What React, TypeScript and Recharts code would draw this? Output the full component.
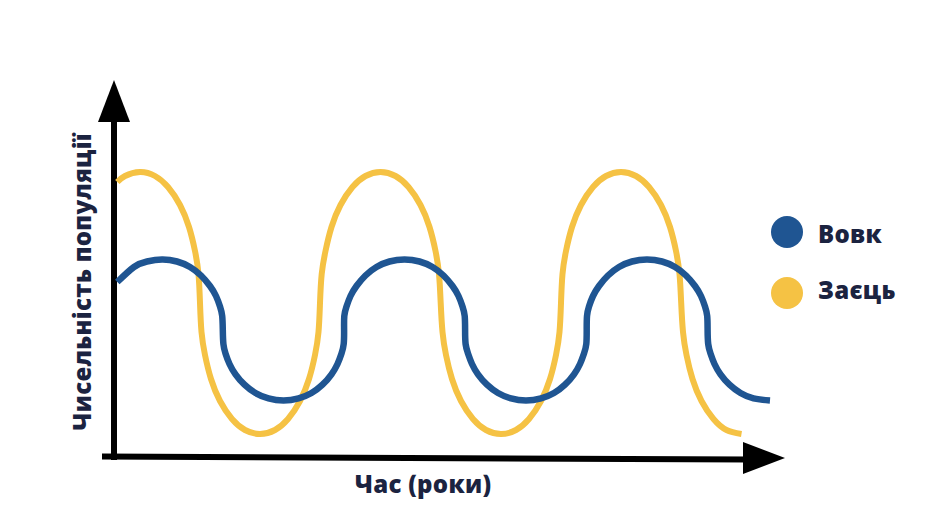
import { LineChart, Line, XAxis, YAxis, Customized } from "recharts";

const seriesNames = ["Вовк", "Заєць"];
const seriesColors = ["#1f5592", "#f5c244"];
const xTitle = "Час (роки)";
const yTitle = "Чисельність популяції";

// wolf (blue) curve
const wolfTime = [
  1.3, 18, 31, 46, 61, 74, 85, 94, 100, 104,
  106.2, 106.8, 107.4, 109.5, 113.5, 119.5, 128.5, 139.5, 152.5, 167.5,
  182.5, 195.5, 206.5, 215.5, 221.5, 225.5, 227.7, 228.1, 228.3, 230.5,
  234.5, 240.5, 249.5, 260.5, 273.5, 288.5, 303.5, 316.5, 327.5, 336.5,
  342.5, 346.5, 348.7, 349.1, 349.6, 352, 356, 362, 371, 382,
  395, 410, 425, 438, 449, 458, 464, 468, 470.3, 470.7,
  471, 473, 477, 483, 492, 503, 516, 531, 546, 559,
  570, 579, 585, 589, 591.2, 591.6, 592.2, 594.5, 598.5, 604.5,
  613.5, 624.5, 637.5, 654,
];
const wolfCount = [
  176, 191, 196.5, 198.5, 196.5, 191, 182.5, 172, 162, 151.5,
  142, 128, 114, 104.5, 94, 83.7, 73.3, 65, 59.6, 57.5,
  59.6, 65, 73.3, 83.7, 94, 104.5, 114, 128, 142, 151.5,
  162, 172, 182.5, 191, 196.5, 198.5, 196.5, 191, 182.5, 172,
  162, 151.5, 142, 128, 114, 104.5, 94, 83.7, 73.3, 65,
  59.6, 57.5, 59.6, 65, 73.3, 83.7, 94, 104.5, 114, 128,
  142, 151.5, 162, 172, 182.5, 191, 196.5, 198.5, 196.5, 191,
  182.5, 172, 162, 151.5, 142, 128, 114, 104.5, 94, 83.7,
  73.3, 65, 59.6, 57.5,
];

// hare (yellow) curve
const hareTime = [
  1.3, 9, 24, 39, 52, 64, 73, 79, 82.5, 84,
  85.5, 89, 95, 104, 116, 129, 144, 159, 172, 184,
  193, 199, 202.5, 204, 205.7, 209.5, 215.5, 224.5, 236.5, 249.5,
  264.5, 279.5, 292.5, 304.5, 313.5, 319.5, 323, 324.7, 326.5, 330,
  336, 345, 357, 370, 385, 400, 413, 425, 434, 440,
  443.5, 445, 446.5, 450, 456, 465, 477, 490, 505, 520,
  533, 545, 554, 560, 563.5, 565.2, 567, 570.5, 576.5, 585.5,
  597.5, 610.5, 625.5,
];
const hareCount = [
  276, 282, 286, 282, 271, 253, 231, 207, 184, 155,
  126, 103, 79, 57, 39, 28, 24, 28, 39, 57,
  79, 103, 126, 155, 184, 207, 231, 253, 271, 282,
  286, 282, 271, 253, 231, 207, 184, 155, 126, 103,
  79, 57, 39, 28, 24, 28, 39, 57, 79, 103,
  126, 155, 184, 207, 231, 253, 271, 282, 286, 282,
  271, 253, 231, 207, 184, 155, 126, 103, 79, 57,
  39, 28, 24,
];

const wolfData = wolfTime.map((t, i) => ({ t, v: wolfCount[i] }));
const hareData = hareTime.map((t, i) => ({ t, v: hareCount[i] }));

const FONT = "'Open Sans', 'Noto Sans', sans-serif";
const INK = "#1b2340";

function Decor() {
  const txt = { fontFamily: FONT, fontWeight: 800, fontSize: 24, letterSpacing: 0.3, fill: INK };
  return (
    <g>
      {/* axes with arrow heads */}
      <line x1={106} y1={110} x2={106} y2={452} stroke="#000" strokeWidth={6} />
      <polygon points="106,72 90,114 122,114" fill="#000" />
      <line x1={94} y1={448.5} x2={740} y2={451.5} stroke="#000" strokeWidth={6} />
      <polygon points="777,450 735,434 735,466" fill="#000" />

      <text x={83} y={274} transform="rotate(-90 83 274)" textAnchor="middle" {...txt}>
        {yTitle}
      </text>
      <text x={415} y={485} textAnchor="middle" {...txt}>
        {xTitle}
      </text>

      {seriesNames.map((name, i) => (
        <g key={name}>
          <circle cx={779} cy={224 + i * 61} r={16} fill={seriesColors[i]} />
          <text x={810} y={235 + i * 56} {...txt}>
            {name}
          </text>
        </g>
      ))}
    </g>
  );
}

export default function App() {
  return (
    <div style={{ width: 924, height: 513 }}>
      <LineChart width={924} height={513} margin={{ top: 50, right: 116, bottom: 63, left: 108 }}>
        <XAxis type="number" dataKey="t" domain={[0, 700]} hide />
        <YAxis type="number" domain={[0, 400]} hide />
        <Line
          data={hareData}
          dataKey="v"
          name={seriesNames[1]}
          type="natural"
          stroke={seriesColors[1]}
          strokeWidth={6}
          dot={false}
          isAnimationActive={false}
        />
        <Line
          data={wolfData}
          dataKey="v"
          name={seriesNames[0]}
          type="natural"
          stroke={seriesColors[0]}
          strokeWidth={6.5}
          dot={false}
          isAnimationActive={false}
        />
        <Customized component={<Decor />} />
      </LineChart>
    </div>
  );
}
